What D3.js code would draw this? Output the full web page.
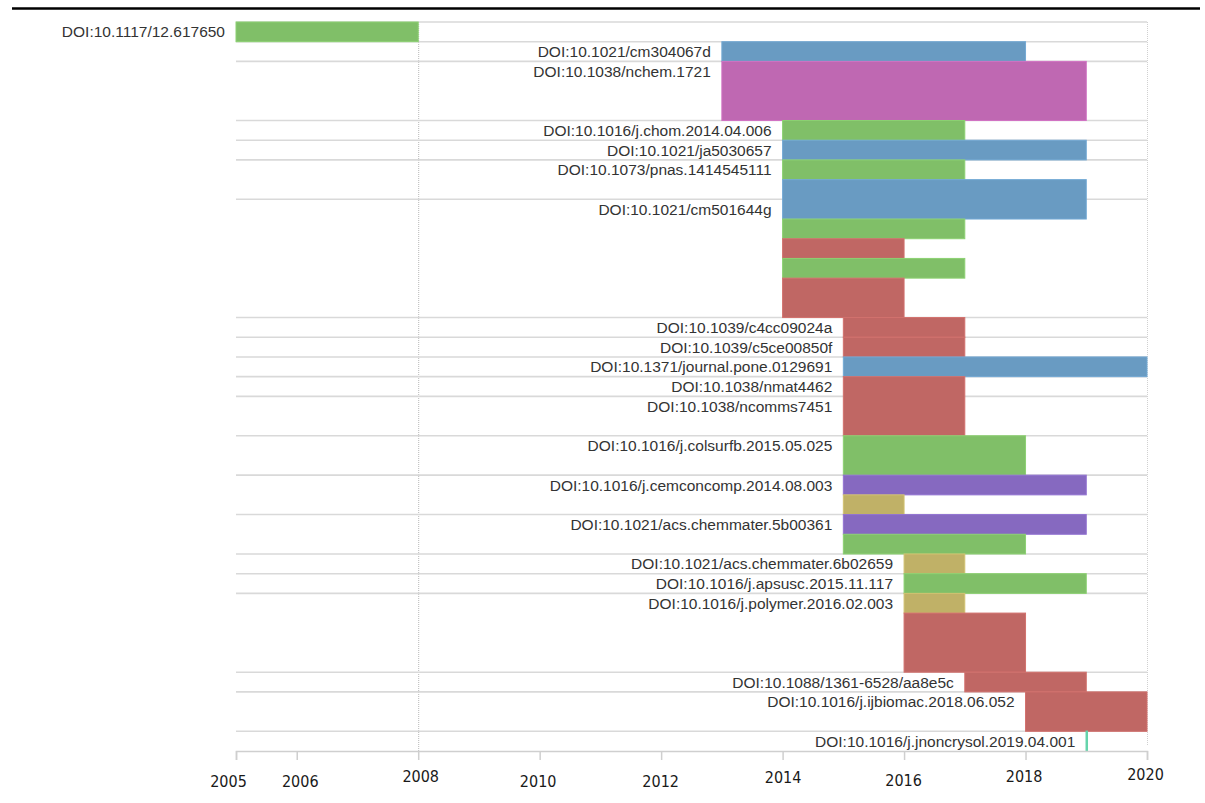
<!DOCTYPE html>
<html>
<head>
<meta charset="utf-8">
<script src="https://cdn.jsdelivr.net/npm/d3@7"></script>
<style>
  html, body { margin: 0; padding: 0; background: #fff; }
  svg { display: block; }
  .doi { font-family: "Liberation Sans", Arial, sans-serif; font-size: 15.5px; fill: #333; }
  .year { font-family: "DejaVu Sans Condensed", "DejaVu Sans", sans-serif; font-stretch: condensed; font-size: 16px; fill: #1a1a1a; }
</style>
</head>
<body>
<svg id="chart" width="1205" height="803"></svg>
<script>
// Publication groups (one labelled block each) and how many lanes each block occupies
const groupLabels = [
  "DOI:10.1117/12.617650",
  "DOI:10.1021/cm304067d",
  "DOI:10.1038/nchem.1721",
  "DOI:10.1016/j.chom.2014.04.006",
  "DOI:10.1021/ja5030657",
  "DOI:10.1073/pnas.1414545111",
  "DOI:10.1021/cm501644g",
  "DOI:10.1039/c4cc09024a",
  "DOI:10.1039/c5ce00850f",
  "DOI:10.1371/journal.pone.0129691",
  "DOI:10.1038/nmat4462",
  "DOI:10.1038/ncomms7451",
  "DOI:10.1016/j.colsurfb.2015.05.025",
  "DOI:10.1016/j.cemconcomp.2014.08.003",
  "DOI:10.1021/acs.chemmater.5b00361",
  "DOI:10.1021/acs.chemmater.6b02659",
  "DOI:10.1016/j.apsusc.2015.11.117",
  "DOI:10.1016/j.polymer.2016.02.003",
  "DOI:10.1088/1361-6528/aa8e5c",
  "DOI:10.1016/j.ijbiomac.2018.06.052",
  "DOI:10.1016/j.jnoncrysol.2019.04.001"
];
const groupLanes = [1, 1, 3, 1, 1, 2, 6, 1, 1, 1, 1, 2, 2, 2, 2, 1, 1, 4, 1, 2, 1];

// Time spans, stacked top to bottom; each span takes barLanes lanes
const barStart = [2005, 2013, 2013, 2014, 2014, 2014, 2014, 2014, 2014, 2014, 2014,
                  2015, 2015, 2015, 2015, 2015, 2015, 2015, 2015, 2015,
                  2016, 2016, 2016, 2016, 2017, 2018, 2019];
const barEnd   = [2008, 2018, 2019, 2017, 2019, 2017, 2019, 2017, 2016, 2017, 2016,
                  2017, 2017, 2020, 2017, 2018, 2019, 2016, 2019, 2018,
                  2017, 2019, 2017, 2018, 2019, 2020, 2019];
const barKind  = [0, 1, 2, 0, 1, 0, 1, 0, 3, 0, 3,
                  3, 3, 1, 3, 0, 4, 5, 4, 0,
                  5, 0, 5, 3, 3, 3, 6];
const barLanes = [1, 1, 3, 1, 1, 1, 2, 1, 1, 1, 2,
                  1, 1, 1, 3, 2, 1, 1, 1, 1,
                  1, 1, 1, 3, 1, 2, 1];

// Axis
const yearTicks = [2005, 2006, 2008, 2010, 2012, 2014, 2016, 2018, 2020];
const yearGrid = [2008];

const palette = ["#80bf68", "#699bc2", "#bf68b2", "#c06764", "#8669c0", "#c0b167", "#5cc29c"];

const svg = d3.select("#chart");
const totalLanes = d3.sum(groupLanes);

const x = d3.scaleLinear().domain([2005, 2020]).range([236, 1147]);
const y = d3.scaleLinear().domain([0, totalLanes]).range([22, 751]);

// Rule across the top of the page
svg.append("line")
  .attr("x1", 12).attr("x2", 1200).attr("y1", 8.5).attr("y2", 8.5)
  .attr("stroke", "#000").attr("stroke-width", 2.5);

// Lane positions of each span
const bars = barStart.map((s, i) => ({ start: s, end: barEnd[i], kind: barKind[i], lanes: barLanes[i] }));
let lane = 0;
bars.forEach(b => { b.lane = lane; lane += b.lanes; });

const groups = groupLabels.map((label, i) => ({ label, lanes: groupLanes[i] }));
lane = 0;
groups.forEach(g => { g.lane = lane; lane += g.lanes; });

// Vertical grid and right border
svg.append("g").selectAll("line").data(yearGrid).join("line")
  .attr("x1", d => x(d) + 0.5).attr("x2", d => x(d) + 0.5)
  .attr("y1", y(0)).attr("y2", y(totalLanes))
  .attr("stroke", "#b8b8b8").attr("stroke-dasharray", "1,1");
svg.append("line")
  .attr("x1", x(2020) + 0.5).attr("x2", x(2020) + 0.5)
  .attr("y1", y(0)).attr("y2", y(totalLanes) - 6)
  .attr("stroke", "#d0d0d0").attr("stroke-dasharray", "1,1");

// Separators between publication blocks
svg.append("g").selectAll("line").data(groups).join("line")
  .attr("x1", x(2005)).attr("x2", x(2020))
  .attr("y1", d => y(d.lane)).attr("y2", d => y(d.lane))
  .attr("stroke", "#d9d9d9").attr("stroke-width", 1.6);

// Spans
svg.append("g").selectAll("rect").data(bars).join("rect")
  .attr("x", d => x(d.start))
  .attr("y", d => y(d.lane))
  .attr("width", d => Math.max(x(d.end) - x(d.start), 1))
  .attr("height", d => y(d.lane + d.lanes) - y(d.lane))
  .attr("fill", d => palette[d.kind])
  .attr("stroke", d => d3.color(palette[d.kind]).brighter(0.25))
  .attr("stroke-width", d => d.end === d.start ? 1.5 : 1);

// Labels sit left of the span covering the first lane of their block
svg.append("g").selectAll("text").data(groups).join("text")
  .attr("class", "doi")
  .attr("text-anchor", "end")
  .attr("dy", "0.36em")
  .attr("x", g => {
    const b = bars.find(b => b.lane <= g.lane && g.lane < b.lane + b.lanes);
    return x(b.start) - 11;
  })
  .attr("y", g => (y(g.lane) + y(g.lane + 1)) / 2)
  .text(g => g.label);

// Time axis
const axis = svg.append("g")
  .attr("transform", `translate(0,${y(totalLanes)})`)
  .call(d3.axisBottom(x).tickValues(yearTicks).tickSize(9).tickFormat(d3.format("d")));
axis.select(".domain").attr("stroke", "#cfcfcf").attr("stroke-width", 1.5);
axis.selectAll(".tick line").attr("stroke", "#cfcfcf").attr("stroke-width", 1.5);
const nudge = { 2005: [-8, 30], 2006: [3, 30], 2008: [2, 25], 2010: [-2, 30], 2012: [-1, 30],
                2014: [0, 26], 2016: [-1, 29], 2018: [-2, 25], 2020: [-2, 23] };
axis.selectAll(".tick text")
  .attr("class", "year")
  .attr("fill", null)
  .attr("x", d => nudge[d][0])
  .attr("y", d => nudge[d][1])
  .attr("dy", "0.35em");
axis.attr("font-size", null).attr("font-family", null);
</script>
</body>
</html>
